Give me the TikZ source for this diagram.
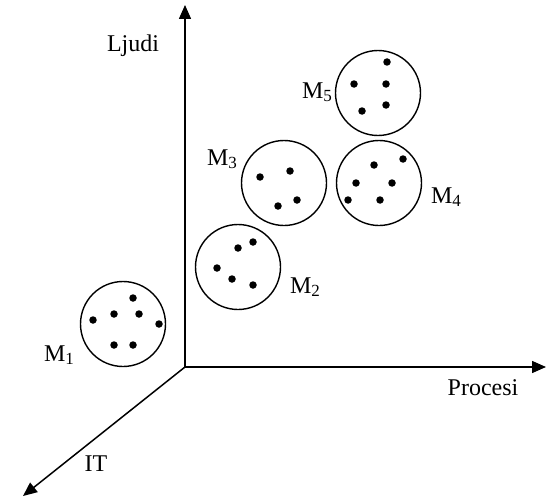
\documentclass[tikz,border=0pt]{standalone}
\usepackage{fontspec}
\setmainfont{Liberation Serif}
\usetikzlibrary{arrows.meta}
\newcommand{\msub}[1]{M{\fontsize{17}{20}\selectfont\raisebox{-3.5pt}{#1}}}
\begin{document}
\begin{tikzpicture}[x=1pt,y=-1pt,
  axis/.style={line width=1.5pt,-{Triangle[length=14pt,width=12pt]}},
  cluster/.style={circle,draw,line width=1.4pt,minimum size=85pt,inner sep=0pt},
  pt/.style={circle,fill,inner sep=0pt,minimum size=7.5pt},
  lbl/.style={font=\fontsize{24}{28}\selectfont,inner sep=0pt}]
\useasboundingbox (0,0) rectangle (546,503);
\coordinate (O) at (185,367);
\coordinate (Ytip) at (185,5);
\coordinate (Xtip) at (546,367);
\coordinate (Ztip) at (23,496);
\draw[axis] (O) -- (Ytip);
\draw[axis] (O) -- (Xtip);
\draw[axis] (O) -- (Ztip);
\node[lbl] (ljudi) at (133,46) {Ljudi};
\node[lbl] (procesi) at (483,388) {Procesi};
\node[lbl] (it) at (96,464) {IT};
% clusters
\node[cluster] (c1) at (123,324) {};
\node[cluster] (c2) at (238,267) {};
\node[cluster] (c3) at (284,183) {};
\node[cluster] (c4) at (379,183) {};
\node[cluster] (c5) at (378,93) {};
\node[lbl] (m1) at (59,355) {\msub{1}};
\node[lbl] (m2) at (305,287) {\msub{2}};
\node[lbl] (m3) at (222,159) {\msub{3}};
\node[lbl] (m4) at (446,197) {\msub{4}};
\node[lbl] (m5) at (317,92) {\msub{5}};
% dots M1
\node[pt] (d11) at (133,298) {};
\node[pt] (d12) at (114,314) {};
\node[pt] (d13) at (139,314) {};
\node[pt] (d14) at (93,320) {};
\node[pt] (d15) at (159,324) {};
\node[pt] (d16) at (114,345) {};
\node[pt] (d17) at (133,345) {};
% dots M2
\node[pt] (d21) at (253,242) {};
\node[pt] (d22) at (238,248) {};
\node[pt] (d23) at (217,268) {};
\node[pt] (d24) at (232,279) {};
\node[pt] (d25) at (253,285) {};
% dots M3
\node[pt] (d31) at (290,171) {};
\node[pt] (d32) at (260,177) {};
\node[pt] (d33) at (297,200) {};
\node[pt] (d34) at (278,206) {};
% dots M4
\node[pt] (d41) at (403,159) {};
\node[pt] (d42) at (374,165) {};
\node[pt] (d43) at (356,183) {};
\node[pt] (d44) at (392,183) {};
\node[pt] (d45) at (348,200) {};
\node[pt] (d46) at (380,200) {};
% dots M5
\node[pt] (d51) at (387,62) {};
\node[pt] (d52) at (354,84) {};
\node[pt] (d53) at (386,84) {};
\node[pt] (d54) at (386,105) {};
\node[pt] (d55) at (362,111) {};
\end{tikzpicture}
\end{document}
